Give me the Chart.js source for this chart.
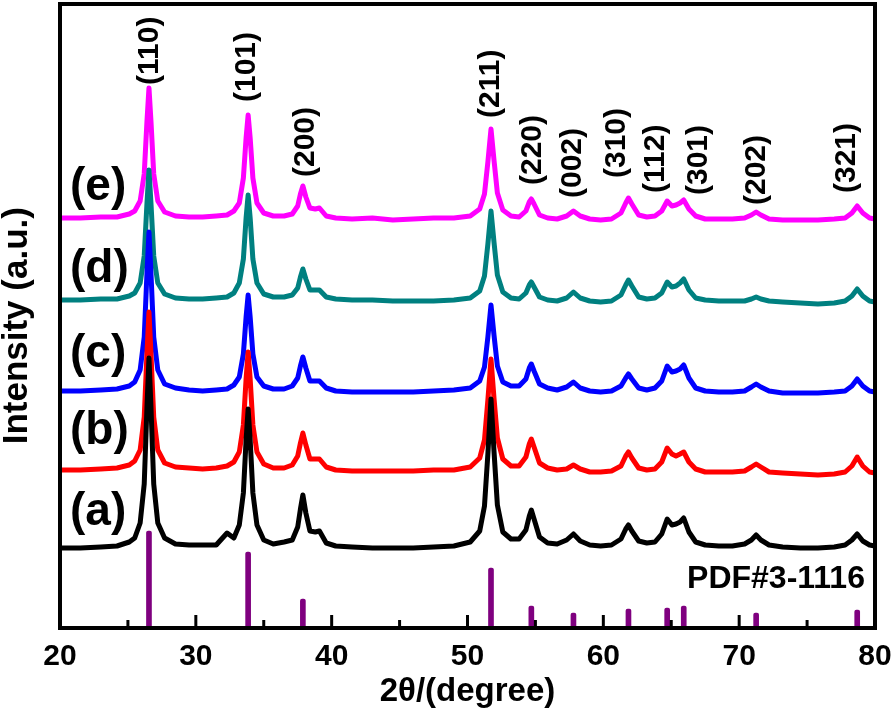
<!DOCTYPE html>
<html>
<head>
<meta charset="utf-8">
<script src="https://cdn.jsdelivr.net/npm/chart.js@4.4.1/dist/chart.umd.min.js"></script>
<style>
  html, body { margin: 0; padding: 0; background: #fff; }
  #xrd { display: block; }
</style>
</head>
<body>
<canvas id="xrd" width="894" height="713"></canvas>
<script>
// 2theta positions (degree) shared by all five patterns
const twoTheta = [
  20, 21.5, 23, 24.2, 25.1, 25.5, 25.9, 26.2, 26.4, 26.55,
  26.7, 26.9, 27.2, 27.7, 28.5, 29.5, 30.5, 31.5, 32.3, 32.8,
  33.2, 33.5, 33.7, 33.85, 34.0, 34.2, 34.5, 35.0, 35.7, 36.5,
  37.1, 37.5, 37.7, 37.88, 38.1, 38.4, 38.8, 39.1, 39.6, 40.3,
  41.5, 43, 44.5, 46, 47.5, 49, 50.2, 50.9, 51.25, 51.5,
  51.73, 51.95, 52.2, 52.6, 53.2, 53.8, 54.3, 54.55, 54.7, 54.9,
  55.3, 55.9, 56.6, 57.3, 57.8, 58.3, 59.0, 59.8, 60.6, 61.3,
  61.65, 61.85, 62.1, 62.6, 63.2, 63.8, 64.3, 64.7, 65.05, 65.35,
  65.65, 65.92, 66.3, 66.8, 67.5, 68.5, 69.5, 70.4, 70.9, 71.25,
  71.6, 72.2, 73.2, 74.5, 75.8, 77, 77.8, 78.3, 78.69, 79.1,
  79.6, 80
];

// intensities (a.u., already stacked as in the figure)
const patternA = [
  80, 80, 81, 82, 86, 90, 105, 144, 220, 270,
  220, 144, 105, 90, 84, 83, 83, 83, 95, 90,
  103, 135, 188, 219, 188, 135, 103, 88, 84, 86,
  88, 101, 119, 133, 115, 97, 96, 97, 85, 82,
  81, 80, 80, 80, 81, 82, 86, 97, 122, 174,
  229, 177, 123, 96, 89, 89, 98, 112, 118, 109,
  91, 85, 84, 88, 94, 87, 83, 82, 83, 89,
  99, 103, 97, 87, 85, 86, 94, 109, 103, 104,
  106, 110, 96, 86, 83, 82, 82, 84, 88, 93,
  88, 83, 81, 80, 80, 81, 83, 88, 94, 87,
  83, 82
];
const patternB = [
  158, 158, 159, 160, 163, 167, 178, 211, 274, 316,
  274, 211, 178, 165, 161, 160, 159, 160, 162, 166,
  176, 203, 249, 276, 249, 203, 176, 164, 160, 160,
  163, 172, 185, 195, 183, 169, 169, 169, 161, 158,
  157, 157, 157, 157, 158, 158, 161, 170, 188, 228,
  269, 230, 190, 169, 162, 162, 171, 184, 189, 181,
  165, 160, 158, 159, 163, 159, 156, 156, 157, 162,
  172, 176, 170, 160, 158, 159, 166, 180, 174, 172,
  174, 176, 166, 159, 156, 156, 156, 157, 161, 164,
  161, 156, 155, 154, 153, 154, 156, 162, 171, 162,
  156, 155
];
const patternC = [
  237, 237, 238, 239, 242, 246, 258, 291, 354, 396,
  354, 291, 258, 244, 240, 238, 237, 238, 239, 243,
  251, 274, 311, 333, 311, 274, 251, 242, 239, 239,
  242, 250, 262, 271, 260, 247, 247, 247, 240, 237,
  236, 236, 236, 236, 237, 238, 240, 247, 261, 291,
  323, 293, 262, 246, 242, 242, 249, 260, 264, 257,
  244, 240, 238, 241, 246, 240, 237, 236, 237, 242,
  250, 254, 249, 240, 238, 240, 247, 262, 256, 257,
  259, 263, 250, 240, 237, 236, 236, 237, 241, 244,
  241, 237, 235, 235, 235, 236, 237, 242, 249, 242,
  237, 236
];
const patternD = [
  328, 328, 329, 329, 332, 335, 345, 372, 424, 458,
  424, 372, 345, 334, 330, 329, 329, 330, 331, 335,
  345, 369, 410, 433, 410, 369, 345, 334, 331, 331,
  333, 340, 351, 359, 349, 338, 338, 338, 331, 329,
  328, 328, 327, 327, 327, 328, 330, 337, 352, 384,
  417, 386, 353, 336, 330, 329, 335, 343, 346, 341,
  331, 328, 327, 330, 336, 330, 327, 326, 327, 333,
  343, 348, 342, 331, 329, 330, 335, 346, 341, 342,
  345, 349, 338, 330, 328, 327, 327, 327, 329, 331,
  329, 327, 326, 325, 324, 325, 327, 332, 339, 332,
  327, 326
];
const patternE = [
  410, 410, 411, 411, 414, 417, 427, 454, 506, 540,
  506, 454, 427, 416, 412, 411, 411, 412, 413, 417,
  425, 450, 490, 513, 490, 450, 425, 415, 412, 412,
  414, 422, 434, 442, 431, 420, 419, 420, 412, 410,
  409, 410, 408, 409, 410, 410, 412, 419, 434, 466,
  499, 468, 435, 418, 412, 411, 417, 426, 429, 424,
  413, 410, 409, 412, 417, 412, 409, 408, 409, 415,
  425, 430, 424, 413, 411, 412, 417, 427, 422, 423,
  425, 428, 419, 412, 409, 409, 409, 410, 413, 416,
  413, 409, 408, 408, 408, 409, 410, 415, 422, 415,
  410, 409
];

// standard card PDF#3-1116
const refPeaks = [26.55, 33.85, 37.88, 51.73, 54.7, 57.8, 61.85, 64.7, 65.92, 71.25, 78.69];
const refIntensity = [97, 76, 29, 60, 22, 15, 19, 20, 22, 15, 18];

const hklLabels = ['(110)', '(101)', '(200)', '(211)', '(220)', '(002)', '(310)', '(112)', '(301)', '(202)', '(321)'];
const hklX = [26.63, 33.77, 38.11, 51.73, 54.82, 57.77, 61.0, 63.88, 67.04, 71.31, 77.94];
const hklY = [543, 526, 451, 510, 443, 430, 450, 435, 433, 423, 435];

const sampleLabels = ['(a)', '(b)', '(c)', '(d)', '(e)'];
const sampleLabelY = [116, 197, 274, 359, 441];

const xTicks = [20, 30, 40, 50, 60, 70, 80];
const xMinorTicks = [25, 35, 45, 55, 65, 75];

const FONT = '"Liberation Sans", Arial, Helvetica, sans-serif';
Chart.defaults.font.family = FONT;
Chart.defaults.font.weight = 'bold';
Chart.defaults.color = '#000';

function toPoints(values) {
  return values.map((v, i) => ({ x: twoTheta[i], y: v }));
}

const lineStyle = {
  type: 'line',
  borderWidth: 5,
  pointRadius: 0,
  tension: 0,
  fill: false,
  borderJoinStyle: 'round',
  borderCapStyle: 'round'
};

const decorations = {
  id: 'decorations',
  afterDatasetsDraw(chart) {
    const { ctx, chartArea: area, scales: { x, y } } = chart;
    ctx.save();

    // frame
    ctx.strokeStyle = '#000';
    ctx.lineWidth = 4;
    ctx.strokeRect(area.left, area.top, area.right - area.left, area.bottom - area.top);

    // inward ticks on the bottom axis
    ctx.lineWidth = 3;
    const tick = (v, len) => {
      const px = x.getPixelForValue(v);
      ctx.beginPath();
      ctx.moveTo(px, area.bottom);
      ctx.lineTo(px, area.bottom - len);
      ctx.stroke();
    };
    xTicks.forEach(v => tick(v, 13));
    xMinorTicks.forEach(v => tick(v, 8));

    ctx.fillStyle = '#000';

    // Miller indices
    ctx.font = 'bold 30px ' + FONT;
    ctx.textAlign = 'left';
    ctx.textBaseline = 'middle';
    hklLabels.forEach((t, i) => {
      ctx.save();
      ctx.translate(x.getPixelForValue(hklX[i]), y.getPixelForValue(hklY[i]));
      ctx.rotate(-Math.PI / 2);
      ctx.fillText(t, 0, 0);
      ctx.restore();
    });

    // sample labels
    ctx.font = 'bold 46px ' + FONT;
    sampleLabels.forEach((t, i) => {
      ctx.fillText(t, x.getPixelForValue(20.74), y.getPixelForValue(sampleLabelY[i]));
    });

    // card number
    ctx.font = 'bold 32px ' + FONT;
    ctx.textAlign = 'right';
    ctx.textBaseline = 'alphabetic';
    ctx.fillText('PDF#3-1116', x.getPixelForValue(79.26), y.getPixelForValue(40));

    ctx.restore();
  }
};

new Chart(document.getElementById('xrd'), {
  type: 'line',
  data: {
    datasets: [
      { ...lineStyle, label: '(a)', data: toPoints(patternA), borderColor: '#000000' },
      { ...lineStyle, label: '(b)', data: toPoints(patternB), borderColor: '#ff0000' },
      { ...lineStyle, label: '(c)', data: toPoints(patternC), borderColor: '#0000ff' },
      { ...lineStyle, label: '(d)', data: toPoints(patternD), borderColor: '#008080' },
      { ...lineStyle, label: '(e)', data: toPoints(patternE), borderColor: '#ff00ff' },
      {
        type: 'bar',
        label: 'PDF#3-1116',
        data: refPeaks.map((p, i) => ({ x: p, y: refIntensity[i] })),
        backgroundColor: '#7f007f',
        barThickness: 5,
        borderRadius: 2,
        borderSkipped: 'bottom',
        grouped: false
      }
    ]
  },
  options: {
    responsive: false,
    animation: false,
    devicePixelRatio: 1,
    layout: { autoPadding: false, padding: { top: 4, right: 19, left: 0, bottom: 0 } },
    plugins: { legend: { display: false }, tooltip: { enabled: false } },
    scales: {
      x: {
        type: 'linear',
        min: 20,
        max: 80,
        offset: false,
        // invisible tick marks only push the labels down; real ticks are drawn inside
        grid: { display: true, drawOnChartArea: false, drawTicks: true, tickLength: 11, tickColor: 'rgba(0,0,0,0)' },
        border: { display: false },
        afterBuildTicks: scale => { scale.ticks = xTicks.map(v => ({ value: v })); },
        afterFit: scale => { scale.height = 85; },
        ticks: { font: { size: 30, weight: 'bold' }, padding: 0, maxRotation: 0 },
        title: {
          display: true,
          text: '2θ/(degree)',
          font: { size: 33, weight: 'bold' },
          padding: { top: 0, bottom: 1 }
        }
      },
      y: {
        type: 'linear',
        min: 0,
        max: 624,
        grid: { display: false },
        border: { display: false },
        ticks: { display: false },
        afterFit: scale => { scale.width = 60; },
        title: {
          display: true,
          text: 'Intensity (a.u.)  ',
          font: { size: 35, weight: 'bold', lineHeight: 1 },
          padding: { top: 0, bottom: 0 }
        }
      }
    }
  },
  plugins: [decorations]
});
</script>
</body>
</html>
